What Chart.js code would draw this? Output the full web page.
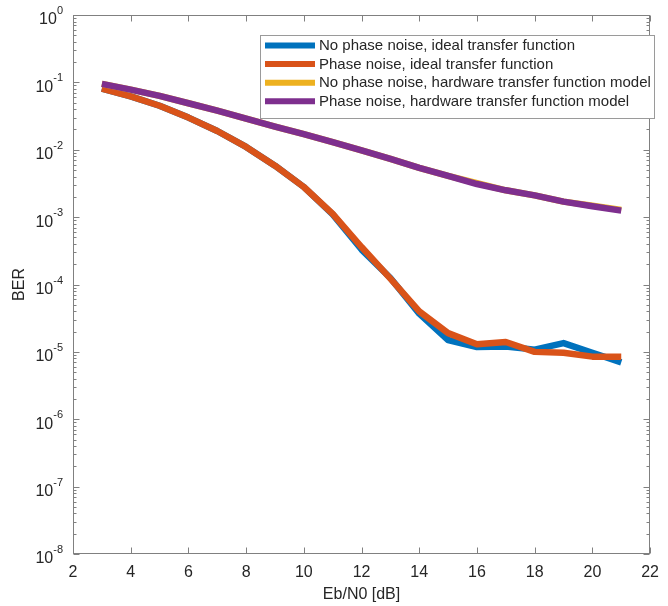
<!DOCTYPE html>
<html>
<head>
<meta charset="utf-8">
<script src="https://cdn.jsdelivr.net/npm/chart.js@4/dist/chart.umd.min.js"></script>
<style>
  html,body{margin:0;padding:0;background:#fff;}
  #wrap{width:668px;height:606px;position:relative;}
</style>
</head>
<body>
<div id="wrap"><canvas id="c" width="668" height="606"></canvas></div>
<script>
// ---- data ----
const ebn0 = [3,4,5,6,7,8,9,10,11,12,13,14,15,16,17,18,19,20,21];
const seriesLabels = [
  'No phase noise, ideal transfer function',
  'Phase noise, ideal transfer function',
  'No phase noise, hardware transfer function model',
  'Phase noise, hardware transfer function model'
];
const berNoPnIdeal = [0.081,0.062,0.045,0.030,0.019,0.011,0.0058,0.0028,0.0011,0.00033,0.000125,0.000037,0.000015,0.0000118,0.0000120,0.0000108,0.0000135,0.0000097,0.0000070];
const berPnIdeal   = [0.081,0.062,0.045,0.030,0.019,0.011,0.0058,0.0028,0.00112,0.00036,0.000122,0.000040,0.000019,0.000013,0.000014,0.0000100,0.0000097,0.0000085,0.0000085];
const berNoPnHw    = [0.095,0.078,0.063,0.049,0.038,0.029,0.022,0.017,0.013,0.0098,0.0073,0.0054,0.0041,0.0032,0.0025,0.0021,0.0017,0.00148,0.00128];
const berPnHw      = [0.095,0.078,0.063,0.049,0.038,0.029,0.022,0.017,0.013,0.0098,0.0073,0.0054,0.0041,0.0031,0.0025,0.0021,0.0017,0.00145,0.00125];
const xTicks = [2,4,6,8,10,12,14,16,18,20,22];
const yExponents = [-8,-7,-6,-5,-4,-3,-2,-1,0];
const colors = ['#0072BD','#D95319','#EDB120','#7E2F8E'];
const xTitle = 'Eb/N0 [dB]';
const yTitle = 'BER';

const FONT = '"Liberation Sans", Arial, sans-serif';
const TEXT = '#262626';
const AXIS = '#808080';

const seriesData = [berNoPnIdeal, berPnIdeal, berNoPnHw, berPnHw];
const datasets = seriesData.map((vals, i) => ({
  label: seriesLabels[i],
  data: ebn0.map((x, k) => ({x, y: vals[k]})),
  borderColor: colors[i],
  backgroundColor: colors[i],
  borderWidth: 6.5,
  pointRadius: 0,
  tension: 0,
  fill: false,
  borderJoinStyle: 'round',
  borderCapStyle: 'butt',
  order: 4 - i
}));

const framePlugin = {
  id: 'frame',
  afterDraw(chart) {
    const ctx = chart.ctx;
    const {left, right, top, bottom} = chart.chartArea;
    const xs = chart.scales.x, ys = chart.scales.y;
    ctx.save();
    ctx.strokeStyle = AXIS;
    ctx.lineWidth = 1;
    const L = Math.round(left) + 0.5, R = Math.round(right) - 0.5;
    const T = Math.round(top) + 0.5, B = Math.round(bottom) - 0.5;
    ctx.strokeRect(L, T, R - L, B - T);
    ctx.beginPath();
    xTicks.forEach(v => {
      const px = Math.round(xs.getPixelForValue(v)) + 0.5;
      ctx.moveTo(px, B); ctx.lineTo(px, B - 6);
      ctx.moveTo(px, T); ctx.lineTo(px, T + 6);
    });
    yExponents.forEach(e => {
      const py = Math.round(ys.getPixelForValue(Math.pow(10, e))) + 0.5;
      ctx.moveTo(L, py); ctx.lineTo(L + 6, py);
      ctx.moveTo(R, py); ctx.lineTo(R - 6, py);
      if (e < 0) {
        for (let m = 2; m <= 9; m++) {
          const pm = Math.round(ys.getPixelForValue(m * Math.pow(10, e))) + 0.5;
          ctx.moveTo(L, pm); ctx.lineTo(L + 3, pm);
          ctx.moveTo(R, pm); ctx.lineTo(R - 3, pm);
        }
      }
    });
    ctx.stroke();

    // y tick labels 10^e
    ctx.fillStyle = TEXT;
    ctx.textBaseline = 'middle';
    yExponents.forEach(e => {
      const py = ys.getPixelForValue(Math.pow(10, e));
      const ex = String(e);
      ctx.font = '11px ' + FONT;
      const ew = ctx.measureText(ex).width;
      const rightEdge = 63;
      ctx.textAlign = 'right';
      ctx.fillText(ex, rightEdge, py - 4);
      ctx.font = '16px ' + FONT;
      ctx.fillText('10', rightEdge - ew, py + 5);
    });

    // legend
    const bx = 260.5, by = 35.5, bw = 394, bh = 83;
    ctx.fillStyle = '#ffffff';
    ctx.fillRect(bx, by, bw, bh);
    ctx.strokeStyle = '#9a9a9a';
    ctx.lineWidth = 1;
    ctx.strokeRect(bx, by, bw, bh);
    ctx.font = '15px ' + FONT;
    ctx.textAlign = 'left';
    ctx.textBaseline = 'middle';
    seriesLabels.forEach((lab, i) => {
      const ry = 45.5 + i * 18.6;
      ctx.strokeStyle = colors[i];
      ctx.lineWidth = 6;
      ctx.beginPath();
      ctx.moveTo(265, ry); ctx.lineTo(315, ry);
      ctx.stroke();
      ctx.fillStyle = TEXT;
      ctx.fillText(lab, 319, ry + 0.5);
    });
    ctx.restore();
  }
};

new Chart(document.getElementById('c'), {
  type: 'line',
  data: {datasets},
  options: {
    responsive: false,
    animation: false,
    devicePixelRatio: 1,
    layout: {padding: {top: 15, right: 10, left: 0, bottom: 0}},
    plugins: {legend: {display: false}, tooltip: {enabled: false}},
    scales: {
      x: {
        type: 'linear', min: 2, max: 22,
        afterFit(s) { s.height = 52; },
        afterBuildTicks(s) { s.ticks = xTicks.map(v => ({value: v})); },
        grid: {display: false, drawTicks: false},
        border: {display: false},
        ticks: {color: TEXT, font: {family: FONT, size: 16}, padding: 9, maxRotation: 0},
        title: {display: true, text: xTitle, color: TEXT, font: {family: FONT, size: 16}, padding: {top: 0, bottom: 1.5}}
      },
      y: {
        type: 'logarithmic', min: 1e-8, max: 1,
        afterFit(s) { s.width = 73; },
        grid: {display: false, drawTicks: false},
        border: {display: false},
        ticks: {display: false},
        title: {display: true, text: yTitle, color: TEXT, font: {family: FONT, size: 16}, padding: {top: 10.4, bottom: 0}}
      }
    }
  },
  plugins: [framePlugin]
});
</script>
</body>
</html>
